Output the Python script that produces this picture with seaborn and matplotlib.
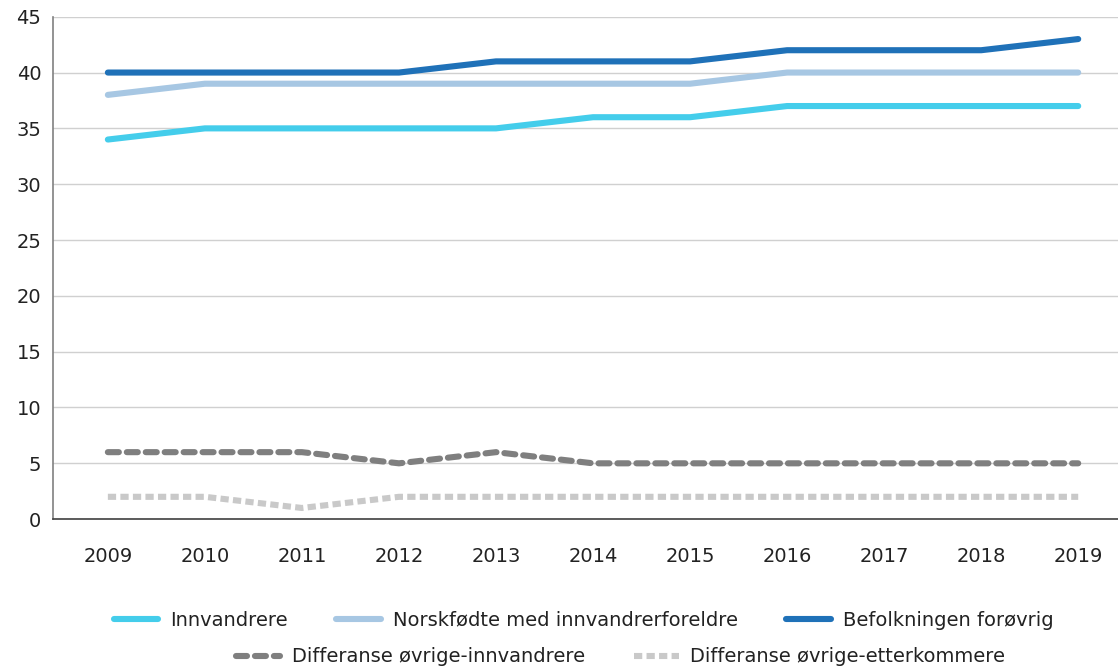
import numpy as np
import pandas as pd
import matplotlib
matplotlib.use("Agg")
import matplotlib.pyplot as plt
import seaborn as sns

sns.set_style("white")
plt.rcParams['font.family'] = ['DejaVu Sans']

years = [2009, 2010, 2011, 2012, 2013, 2014, 2015, 2016, 2017, 2018, 2019]
innvandrere = [34, 35, 35, 35, 35, 36, 36, 37, 37, 37, 37]
norskfodte = [38, 39, 39, 39, 39, 39, 39, 40, 40, 40, 40]
befolkningen = [40, 40, 40, 40, 41, 41, 41, 42, 42, 42, 43]
diff_innv = [6, 6, 6, 5, 6, 5, 5, 5, 5, 5, 5]
diff_etterk = [2, 2, 1, 2, 2, 2, 2, 2, 2, 2, 2]

names = ["Innvandrere", "Norskfødte med innvandrerforeldre", "Befolkningen forøvrig",
         "Differanse øvrige-innvandrere", "Differanse øvrige-etterkommere"]
series = [innvandrere, norskfodte, befolkningen, diff_innv, diff_etterk]
colors = ["#44CDEB", "#A7C7E3", "#1F71B8", "#7F7F7F", "#C9C9C9"]

df = pd.DataFrame({
    "year": np.tile(years, len(names)),
    "value": np.concatenate(series),
    "serie": np.repeat(names, len(years)),
})

fig, ax = plt.subplots(figsize=(11.18, 6.69), dpi=100)
fig.subplots_adjust(left=0.047, right=1.0, top=0.975, bottom=0.224)

lw = 4.4
for name, col in zip(names, colors):
    sub = df[df["serie"] == name]
    sns.lineplot(data=sub, x="year", y="value", color=col, lw=lw, ax=ax,
                 legend=False, label=name)

lines = ax.get_lines()
for ln in lines[:3]:
    ln.set_solid_capstyle("round")
    ln.set_solid_joinstyle("round")
lines[3].set_dashes((1.8, 1.3))
lines[3].set_dash_capstyle("round")
lines[4].set_dashes((1.35, 0.7))
lines[4].set_dash_capstyle("butt")

ax.set_ylim(0, 45)
ax.set_yticks(range(0, 46, 5))
ax.set_xlim(2008.43, 2019.41)
ax.set_xticks(years)
ax.set_xlabel("")
ax.set_ylabel("")
ax.yaxis.grid(True, color="#D0D0D0", lw=1)
ax.set_axisbelow(True)
ax.tick_params(axis="both", length=0, labelsize=14, colors="#222222")
ax.tick_params(axis="x", pad=20)
ax.tick_params(axis="y", pad=8)
for s in ["top", "right"]:
    ax.spines[s].set_visible(False)
ax.spines["left"].set_color("#808080")
ax.spines["bottom"].set_color("#404040")
ax.spines["left"].set_linewidth(1.2)
ax.spines["bottom"].set_linewidth(1.2)

leg_kw = dict(frameon=False, fontsize=14, handlelength=2.3, handletextpad=0.6,
              columnspacing=2.5, labelcolor="#222222")
leg1 = fig.legend(lines[:3], names[:3], ncol=3, loc="center",
                  bbox_to_anchor=(0.522, 0.073), **leg_kw)
leg2 = fig.legend(lines[3:], names[3:], ncol=2, loc="center",
                  bbox_to_anchor=(0.555, 0.018), **leg_kw)

fig.savefig("out.png", dpi=100)
